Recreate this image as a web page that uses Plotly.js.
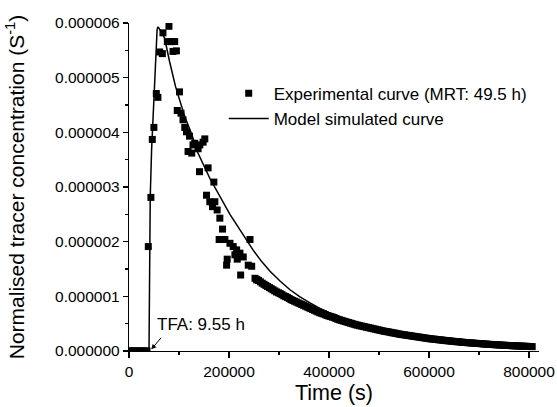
<!DOCTYPE html>
<html>
<head>
<meta charset="utf-8">
<script src="https://cdn.plot.ly/plotly-3.0.1.min.js"></script>
<style>html,body{margin:0;padding:0;background:#fff;}#chart{width:557px;height:407px;}</style>
</head>
<body>
<div id="chart"></div>
<script>
// Experimental tracer points: time (s) and normalised concentration (units of 1e-6 S^-1)
const expTimeSparse = [0,3600,7200,10800,14400,18000,21600,25200,28800,32400,36000,
  38600,43800,46600,49800,54600,57800,61200,66700,67900,76700,79900,84700,88000,91400,94800,
  96500,101000,104000,108000,111500,115000,121000,118100,125500,128000,131500,138200,141600,148200,151600,141000,158200,
  155000,161600,167000,169700,171700,176300,181700,187100,180300,191800,196400,195200,201900,208400,211800,215300,216500,
  221900,223300,228500,238500,242000,245400,255400];
const expConcSparse = [0,0,0,0,0,0,0,0,0,0,0,
  1.91,2.81,3.87,4.09,4.71,4.64,5.47,5.44,5.82,5.66,5.94,5.66,5.48,5.66,5.49,
  4.40,4.74,4.35,4.23,4.09,4.01,3.93,3.65,3.62,3.77,3.80,3.70,3.77,3.82,3.88,3.28,3.35,
  2.85,2.73,2.64,3.09,2.73,2.58,2.43,2.23,2.04,2.04,1.68,1.57,1.97,1.91,1.76,1.85,1.68,
  1.79,1.39,1.72,1.57,2.04,1.55,1.30];
// Dense hourly tail of the experimental record: elapsed hours and concentration (1e-6 S^-1)
const tailHours = [70,71,72,73,74,75,76,77,78,79,80,81,82,83,84,85,86,87,88,89,90,91,92,93,94,95,96,97,98,99,
  100,101,102,103,104,105,106,107,108,109,110,111,112,113,114,115,116,117,118,119,120,121,122,123,124,125,126,127,128,129,
  130,131,132,133,134,135,136,137,138,139,140,141,142,143,144,145,146,147,148,149,150,151,152,153,154,155,156,157,158,159,
  160,161,162,163,164,165,166,167,168,169,170,171,172,173,174,175,176,177,178,179,180,181,182,183,184,185,186,187,188,189,
  190,191,192,193,194,195,196,197,198,199,200,201,202,203,204,205,206,207,208,209,210,211,212,213,214,215,216,217,218,219,
  220,221,222,223,224];
const tailConc = [1.33,1.31,1.29,1.265,1.24,1.22,1.20,1.18,1.16,1.14,1.12,1.10,1.08,1.065,1.05,1.03,1.01,0.995,0.98,0.96,
  0.94,0.925,0.91,0.895,0.88,0.865,0.85,0.835,0.82,0.805,0.79,0.775,0.76,0.745,0.73,0.715,0.70,0.69,0.68,0.665,
  0.65,0.64,0.63,0.62,0.61,0.595,0.58,0.57,0.56,0.55,0.54,0.53,0.52,0.51,0.50,0.49,0.48,0.473,0.465,0.457,
  0.45,0.443,0.435,0.428,0.42,0.413,0.405,0.398,0.39,0.383,0.375,0.368,0.36,0.355,0.35,0.343,0.335,0.33,0.325,0.318,
  0.31,0.305,0.30,0.295,0.29,0.285,0.28,0.275,0.27,0.265,0.26,0.255,0.25,0.245,0.24,0.235,0.23,0.225,0.22,0.218,
  0.215,0.21,0.205,0.203,0.20,0.195,0.19,0.188,0.185,0.181,0.178,0.174,0.17,0.168,0.165,0.161,0.158,0.155,0.152,0.15,
  0.147,0.145,0.142,0.14,0.137,0.135,0.132,0.13,0.127,0.125,0.122,0.12,0.118,0.116,0.114,0.112,0.11,0.108,0.106,0.104,
  0.102,0.10,0.098,0.097,0.095,0.094,0.092,0.091,0.089,0.088,0.086,0.085,0.083,0.082,0.08];
// Model simulated curve
const modelTime = [0,40000,40500,41000,42500,45200,50200,53200,56200,58000,64700,71300,76000,81000,93000,102000,111400,124900,137000,
  161600,201900,248600,265000,282000,302000,322000,342000,362000,382000,410000,436000,470000,503000,550000,603000,650000,704000,750000,812000];
const modelConc = [0,0,0.6,1.9,2.82,3.68,4.59,5.33,5.88,5.93,5.84,5.72,5.5,5.3,4.84,4.56,4.29,3.98,3.64,
  3.16,2.50,1.84,1.64,1.46,1.28,1.12,0.99,0.88,0.78,0.66,0.57,0.48,0.41,0.33,0.26,0.21,0.17,0.145,0.12];
const scale = 1e-6;
const secondsPerHour = 3600;
const seriesNames = ['Experimental curve (MRT: 49.5 h)', 'Model simulated curve'];
const tfaLabel = 'TFA: 9.55 h';
const tfaTime = 44600;

const expX = expTimeSparse.concat(tailHours.map(h => h * secondsPerHour));
const expY = expConcSparse.concat(tailConc).map(v => v * scale);

const FONT = 'Arial, "Liberation Sans", sans-serif';
const traces = [
  {x: expX, y: expY, type: 'scatter', mode: 'markers', name: seriesNames[0],
   marker: {symbol: 'square', size: 7, color: '#000', line: {width: 0}}, cliponaxis: true},
  {x: modelTime, y: modelConc.map(v => v * scale), type: 'scatter', mode: 'lines', name: seriesNames[1],
   line: {color: '#000', width: 1.5}}
];
const layout = {
  width: 557, height: 407,
  margin: {l: 129, r: 18, t: 23, b: 56},
  paper_bgcolor: '#fff', plot_bgcolor: '#fff',
  font: {family: FONT, color: '#000', size: 15},
  showlegend: true,
  legend: {x: 0.231, y: 0.839, xanchor: 'left', yanchor: 'top', bgcolor: 'rgba(0,0,0,0)', itemwidth: 40,
           font: {family: FONT, size: 17, color: '#000'}},
  xaxis: {range: [0, 820000], showgrid: false, zeroline: false, showline: true, linecolor: '#000', linewidth: 1.2,
          ticks: 'outside', ticklen: 6, tickwidth: 1.2, tickcolor: '#000', dtick: 200000, tick0: 0,
          tickformat: 'd', tickfont: {family: FONT, size: 15.5, color: '#000'},
          minor: {dtick: 100000, ticks: 'outside', ticklen: 3, tickwidth: 1.2, tickcolor: '#000', showgrid: false},
          title: {text: 'Time (s)', font: {family: FONT, size: 21.5, color: '#000'}, standoff: 6}},
  yaxis: {range: [0, 6e-6], showgrid: false, zeroline: false, showline: true, linecolor: '#000', linewidth: 1.2,
          ticks: 'outside', ticklen: 5, tickwidth: 1.2, tickcolor: '#000', dtick: 1e-6, tick0: 0,
          tickformat: '.6f', tickfont: {family: FONT, size: 15.5, color: '#000'},
          minor: {dtick: 0.5e-6, ticks: 'outside', ticklen: 3, tickwidth: 1.2, tickcolor: '#000', showgrid: false},
          title: {text: 'Normalised tracer concentration (S<sup>-1</sup>)', font: {family: FONT, size: 21, color: '#000'}, standoff: 24}},
  annotations: [
    {x: tfaTime, y: 0.03e-6, xref: 'x', yref: 'y', text: '', showarrow: true, arrowhead: 2, arrowsize: 1, arrowwidth: 1,
     arrowcolor: '#000', ax: 11, ay: -13},
    {x: tfaTime, y: 0, xref: 'x', yref: 'y', text: tfaLabel, showarrow: false, xanchor: 'left', yanchor: 'middle',
     xshift: 4, yshift: 27, font: {family: FONT, size: 17, color: '#000'}}
  ]
};
Plotly.newPlot('chart', traces, layout, {displayModeBar: false, staticPlot: true});
</script>
</body>
</html>
